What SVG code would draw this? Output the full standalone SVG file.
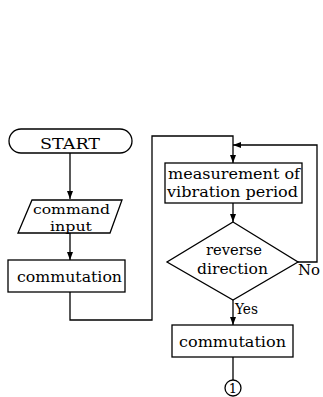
<svg xmlns="http://www.w3.org/2000/svg" width="323" height="397" viewBox="0 0 323 397">
<style>
.s{fill:#fff;stroke:#000;stroke-width:1.3}
.c{fill:none;stroke:#000;stroke-width:1.3}
text{font-family:"DejaVu Serif","Liberation Serif",serif;font-size:15px;fill:#000;text-anchor:middle}
</style>
<defs>
<marker id="a" viewBox="0 0 8 8" refX="8" refY="4" markerWidth="8" markerHeight="8" markerUnits="userSpaceOnUse" orient="auto">
<path d="M0,1 L8,4 L0,7 Z" fill="#000"/>
</marker>
</defs>
<rect width="323" height="397" fill="#fff"/>
<g id="connectors">
<path class="c" d="M70,153 V199" marker-end="url(#a)"/>
<path class="c" d="M70,233 V260" marker-end="url(#a)"/>
<path class="c" d="M70,292 V320 H152 V136 H233 V163" marker-end="url(#a)"/>
<path class="c" d="M233,203 V222" marker-end="url(#a)"/>
<path class="c" d="M233,300 V325" marker-end="url(#a)"/>
<path class="c" d="M233,357 V380"/>
<path class="c" d="M298,262 H317 V145 H233" marker-end="url(#a)"/>
<text x="246.5" y="314" textLength="23" lengthAdjust="spacingAndGlyphs">Yes</text>
<text x="309" y="275" textLength="22" lengthAdjust="spacingAndGlyphs">No</text>
</g>
<g id="start">
<rect class="s" x="9" y="129" width="123" height="24" rx="12"/>
<text x="70" y="149" style="font-size:15px" textLength="60" lengthAdjust="spacingAndGlyphs">START</text>
</g>
<g id="input">
<polygon class="s" points="32,200 122,200 110,233 18,233"/>
<text x="71.5" y="214" style="font-size:13.5px" textLength="77" lengthAdjust="spacingAndGlyphs">command</text>
<text x="71" y="230.5" style="font-size:13.5px" textLength="42" lengthAdjust="spacingAndGlyphs">input</text>
</g>
<g id="commutation1">
<rect class="s" x="8" y="260" width="117" height="32"/>
<text x="69.5" y="282" textLength="105" lengthAdjust="spacingAndGlyphs">commutation</text>
</g>
<g id="measurement">
<rect class="s" x="165" y="163" width="137" height="40"/>
<text x="234" y="179" textLength="132" lengthAdjust="spacingAndGlyphs">measurement of</text>
<text x="232.5" y="197" textLength="131" lengthAdjust="spacingAndGlyphs">vibration period</text>
</g>
<g id="decision">
<polygon class="s" points="233,222 298,262 233,300 167,262"/>
<text x="234" y="255" textLength="56" lengthAdjust="spacingAndGlyphs">reverse</text>
<text x="232.5" y="274" textLength="71" lengthAdjust="spacingAndGlyphs">direction</text>
</g>
<g id="commutation2">
<rect class="s" x="172" y="325" width="121" height="32"/>
<text x="232.5" y="347" textLength="107" lengthAdjust="spacingAndGlyphs">commutation</text>
</g>
<g id="connector1">
<circle class="s" cx="233" cy="388" r="8"/>
<text x="233" y="393" style="font-size:13px">1</text>
</g>
</svg>
